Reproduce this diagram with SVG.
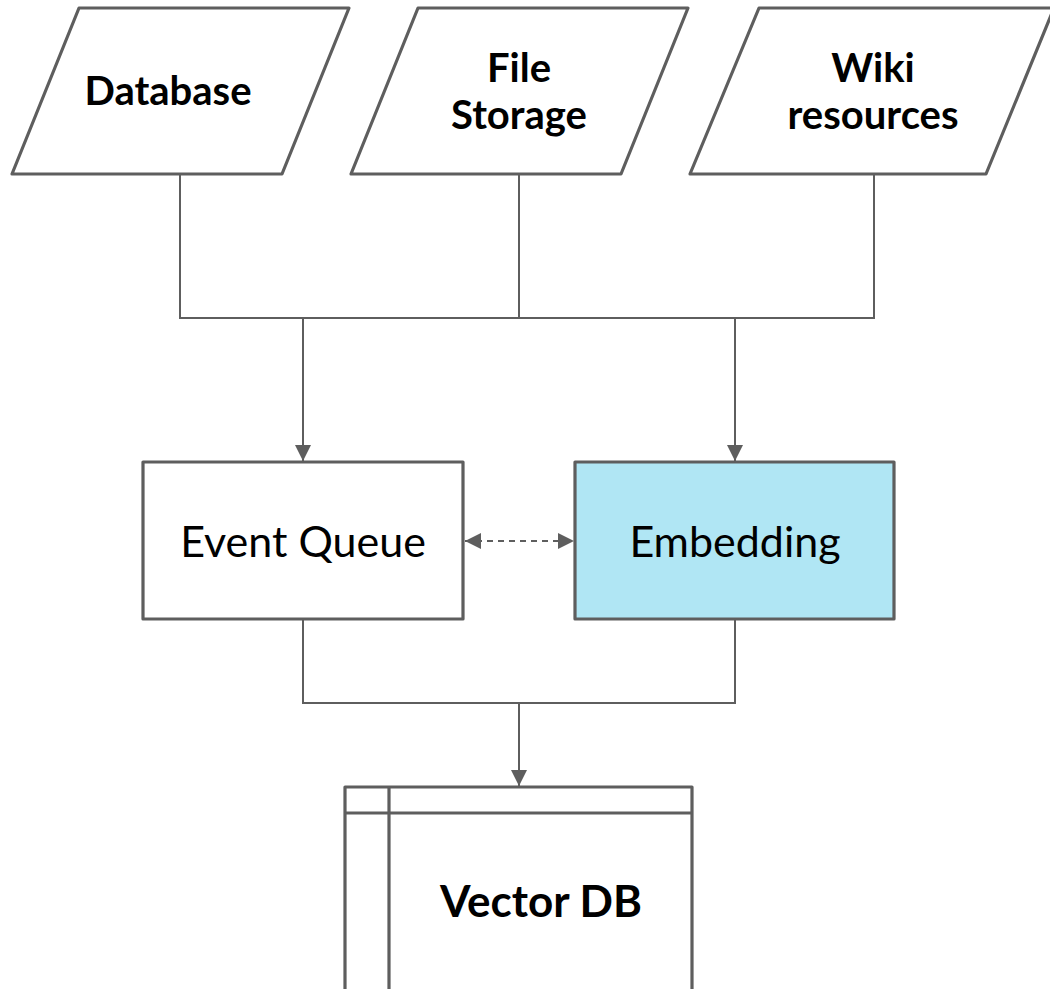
<svg xmlns="http://www.w3.org/2000/svg" width="1050" height="989" viewBox="0 0 1050 989">
  <style>
    .shape { fill: #ffffff; stroke: #5e5e5e; stroke-width: 3.2; stroke-linejoin: round; }
    .accent { fill: #b0e6f4; }
    .wire { fill: none; stroke: #5e5e5e; stroke-width: 2; }
    .dash { stroke-dasharray: 6 5; }
    .bold { font-family: Lato, "Liberation Sans", sans-serif; font-weight: 700; font-size: 40px; fill: #000000; text-anchor: middle; }
    .big { font-size: 44px; }
    .plain { font-family: Lato, "Liberation Sans", sans-serif; font-weight: 400; font-size: 43px; fill: #000000; text-anchor: middle; }
  </style>
  <defs>
    <marker id="arrow" viewBox="0 0 10 10" refX="10" refY="5" markerWidth="8" markerHeight="8" orient="auto-start-reverse" markerUnits="strokeWidth">
      <path d="M0,0 L10,5 L0,10 Z" fill="#5e5e5e"/>
    </marker>
  </defs>

  <rect width="1050" height="989" fill="#ffffff"/>

  <!-- connectors -->
  <g id="connectors">
    <polyline class="wire" points="180,174 180,318 874,318 874,174"/>
    <line class="wire" x1="519" y1="174" x2="519" y2="318"/>
    <line class="wire" x1="303" y1="318" x2="303" y2="461" marker-end="url(#arrow)"/>
    <line class="wire" x1="735" y1="318" x2="735" y2="461" marker-end="url(#arrow)"/>
    <line class="wire dash" x1="465" y1="541" x2="574" y2="541" marker-start="url(#arrow)" marker-end="url(#arrow)"/>
    <polyline class="wire" points="303,619 303,703 735,703 735,619"/>
    <line class="wire" x1="519" y1="703" x2="519" y2="786" marker-end="url(#arrow)"/>
  </g>

  <!-- source nodes -->
  <g id="database">
    <polygon class="shape" points="79,8 349,8 282,174 12,174"/>
    <text class="bold" x="168" y="105">Database</text>
  </g>
  <g id="file-storage">
    <polygon class="shape" points="418,8 688,8 621,174 351,174"/>
    <text class="bold" x="519" y="82">File</text>
    <text class="bold" x="519" y="129">Storage</text>
  </g>
  <g id="wiki-resources">
    <polygon class="shape" points="759,8 1054,8 986,174 690,174"/>
    <text class="bold" x="873" y="82">Wiki</text>
    <text class="bold" x="873" y="129">resources</text>
  </g>

  <!-- processing nodes -->
  <g id="event-queue">
    <rect class="shape" x="143" y="462" width="320" height="157"/>
    <text class="plain" x="303" y="557">Event Queue</text>
  </g>
  <g id="embedding">
    <rect class="shape accent" x="575" y="462" width="319" height="157"/>
    <text class="plain" x="735" y="557">Embedding</text>
  </g>

  <!-- storage node -->
  <g id="vector-db">
    <rect class="shape" x="345" y="787" width="347" height="230"/>
    <line class="wire" style="stroke-width:3.2" x1="345" y1="813" x2="692" y2="813"/>
    <line class="wire" style="stroke-width:3.2" x1="389" y1="787" x2="389" y2="989"/>
    <text class="bold big" x="541" y="917">Vector DB</text>
  </g>
</svg>
